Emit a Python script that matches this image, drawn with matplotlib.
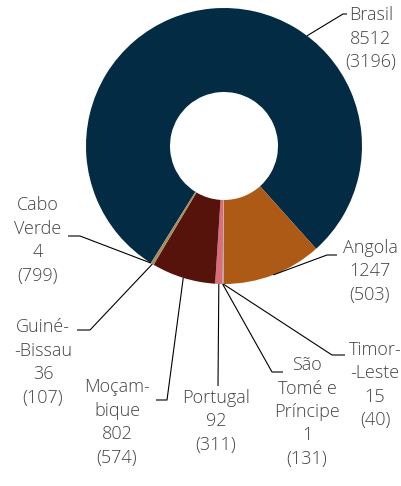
import numpy as np
import matplotlib
matplotlib.use("Agg")
import matplotlib.pyplot as plt

# ── Data ──────────────────────────────────────────────────────────────────────
countries = ["Brasil", "Angola", "Timor-Leste", "São Tomé e Príncipe",
             "Portugal", "Moçambique", "Guiné-Bissau", "Cabo Verde"]
label_names = ["Brasil", "Angola", "Timor-\n-Leste", "São\nTomé e\nPríncipe",
               "Portugal", "Moçam-\nbique", "Guiné-\n-Bissau", "Cabo\nVerde"]
values = [8512, 1247, 15, 1, 92, 802, 36, 4]
second = [3196, 503, 40, 131, 311, 574, 107, 799]
colors = ["#032c44", "#ad5a17", "#a9a9a9", "#c9c9c9",
          "#d96d78", "#55130b", "#a58b5a", "#7a7a4a"]

# ── Layout (pixel coords, y from top) ─────────────────────────────────────────
W, H = 402, 486
CX, CY, R = 224, 146, 138
HOLE = 54

# anchor angle override (None = slice middle), elbow point, end point,
# text centre x, first-line centre y
anchor_override = [53.0, None, None, None, None, None, None, None]
elbows = [(343, 14), (327, 255), (332, 355), (272, 372),
          (218, 386), (167, 400), (90, 330), (80, 236)]
ends = [(347, 14), (337, 255), (345, 355), (283, 372),
        (218, 386), (156, 400), (77, 330), (68, 236)]
text_pos = [(371, 15), (370, 248), (375, 350), (307, 365),
            (216, 398), (117, 387), (43, 327), (38, 205)]

plt.rcParams["font.family"] = ["Open Sans", "DejaVu Sans"]

fig = plt.figure(figsize=(W / 100, H / 100), dpi=100)
ax = fig.add_axes([0, 0, 1, 1])

def fy(y):
    return H - y

wedges, _ = ax.pie(values, colors=colors, startangle=238, counterclock=False,
                   radius=R, center=(CX, fy(CY)),
                   wedgeprops=dict(width=R - HOLE, linewidth=0))
ax.set_xlim(0, W)
ax.set_ylim(0, H)
ax.set_aspect("equal")
ax.axis("off")

LINE_H = 23.5
for i, w in enumerate(wedges):
    ang = anchor_override[i]
    if ang is None:
        ang = (w.theta1 + w.theta2) / 2
    a = np.deg2rad(ang)
    x0 = CX + R * np.cos(a)
    y0 = CY - R * np.sin(a)
    (ex, ey), (tx, ty) = elbows[i], ends[i]
    ax.plot([x0, ex, tx], [fy(y0), fy(ey), fy(ty)], color="black", lw=0.8,
            solid_capstyle="butt")
    lines = label_names[i].split("\n") + [f"{values[i]}", f"({second[i]})"]
    px, py = text_pos[i]
    for k, s in enumerate(lines):
        ax.text(px, fy(py + k * LINE_H), s, ha="center", va="center",
                fontsize=13, color="#444444", fontweight="light")

fig.savefig("out.png", dpi=100)
